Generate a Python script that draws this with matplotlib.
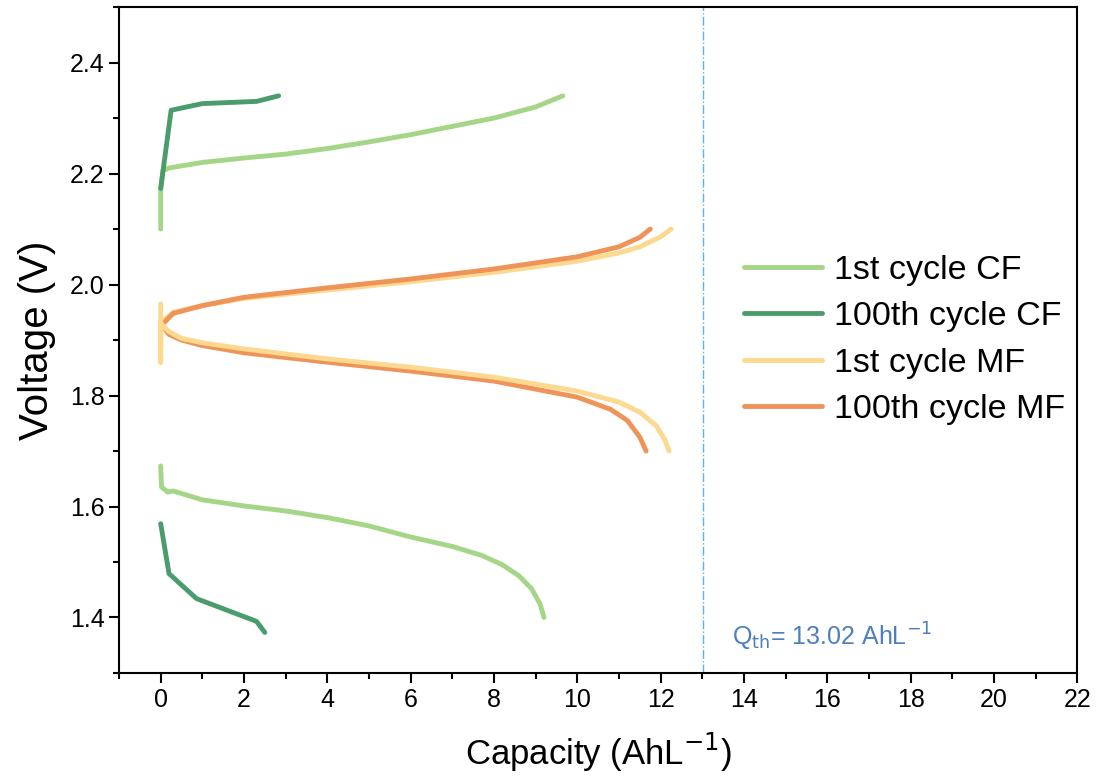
import numpy as np
import matplotlib
matplotlib.use('Agg')
import matplotlib.pyplot as plt
from matplotlib.ticker import MultipleLocator, FormatStrFormatter

plt.rcParams['font.family'] = ['Liberation Sans', 'DejaVu Sans']

# 1st cycle CF
cf1_chg_x = [0, 0, 0.05, 0.2, 1, 2, 3, 4, 5, 6, 7, 8, 9, 9.65]
cf1_chg_y = [2.10, 2.17, 2.205, 2.21, 2.22, 2.228, 2.235, 2.245, 2.257, 2.27, 2.285, 2.30, 2.32, 2.34]
cf1_dis_x = [0, 0.02, 0.17, 0.3, 1.0, 2.0, 3.0, 4.0, 5.0, 6.0, 7.0, 7.7, 8.2, 8.6, 8.9, 9.1, 9.2]
cf1_dis_y = [1.673, 1.635, 1.626, 1.628, 1.612, 1.601, 1.592, 1.580, 1.565, 1.545, 1.528, 1.512, 1.495, 1.475, 1.452, 1.425, 1.40]

# 100th cycle CF
cf100_chg_x = [0, 0.25, 1.0, 2.3, 2.83]
cf100_chg_y = [2.173, 2.314, 2.326, 2.33, 2.34]
cf100_dis_x = [0, 0.2, 0.86, 2.3, 2.5]
cf100_dis_y = [1.569, 1.479, 1.434, 1.393, 1.373]

# 1st cycle MF
mf1_chg_x = [0, 0.3, 1, 2, 4, 6, 8, 10, 11, 11.5, 12, 12.25]
mf1_chg_y = [1.93, 1.95, 1.962, 1.975, 1.99, 2.005, 2.022, 2.042, 2.057, 2.068, 2.086, 2.10]
mf1_dis_x = [0, 0, 0, 0.2, 0.5, 1, 2, 4, 6, 8, 10, 11, 11.5, 11.9, 12.1, 12.2]
mf1_dis_y = [1.965, 1.86, 1.93, 1.915, 1.903, 1.895, 1.884, 1.866, 1.851, 1.833, 1.808, 1.788, 1.77, 1.745, 1.72, 1.70]

# 100th cycle MF
mf100_chg_x = [0, 0.3, 1, 2, 4, 6, 8, 10, 11, 11.5, 11.75]
mf100_chg_y = [1.925, 1.948, 1.962, 1.977, 1.994, 2.01, 2.028, 2.05, 2.068, 2.085, 2.10]
mf100_dis_x = [0, 0.2, 0.5, 1, 2, 4, 6, 8, 10, 10.8, 11.2, 11.5, 11.65]
mf100_dis_y = [1.93, 1.91, 1.9, 1.89, 1.877, 1.86, 1.844, 1.826, 1.797, 1.775, 1.755, 1.725, 1.70]

q_th = 13.02

c_cf1 = '#a5d586'
c_cf100 = '#4b9c6d'
c_mf1 = '#fcd98e'
c_mf100 = '#ef9458'

fig = plt.figure(figsize=(10.96, 7.83), dpi=100)
ax = fig.add_axes([0.1086, 0.1405, 0.8744, 0.8505])

lw = 3.5
kw = dict(lw=lw, solid_capstyle='round', solid_joinstyle='round')
ax.plot(cf1_chg_x, cf1_chg_y, color=c_cf1, label='1st cycle CF', **kw)
ax.plot(cf1_dis_x, cf1_dis_y, color=c_cf1, **kw)
ax.plot(cf100_chg_x, cf100_chg_y, color=c_cf100, label='100th cycle CF', **kw)
ax.plot(cf100_dis_x, cf100_dis_y, color=c_cf100, **kw)
ax.plot(mf1_chg_x, mf1_chg_y, color=c_mf1, label='1st cycle MF', **kw)
ax.plot(mf100_chg_x, mf100_chg_y, color=c_mf100, label='100th cycle MF', **kw)
ax.plot(mf100_dis_x, mf100_dis_y, color=c_mf100, **kw)
ax.plot(mf1_dis_x, mf1_dis_y, color=c_mf1, **kw)

ax.axvline(q_th, color='#62aef2', lw=1, ls='-.')
ax.text(q_th + 0.7, 1.35, r'Q$_{\rm th}$= 13.02 AhL$^{-1}$', color='#4d7fbf', fontsize=18)

ax.set_xlim(-1, 22)
ax.set_ylim(1.3, 2.5)
ax.xaxis.set_major_locator(MultipleLocator(2))
ax.xaxis.set_minor_locator(MultipleLocator(1))
ax.yaxis.set_major_locator(MultipleLocator(0.2))
ax.yaxis.set_minor_locator(MultipleLocator(0.1))
ax.yaxis.set_major_formatter(FormatStrFormatter('%.1f'))
ax.tick_params(which='major', length=7, width=1.5, labelsize=18, direction='out')
ax.tick_params(which='minor', length=4, width=1.5, direction='out')
for s in ax.spines.values():
    s.set_linewidth(1.5)

ax.set_xlabel('Capacity (AhL$^{-1}$)', fontsize=25, labelpad=14)
ax.set_ylabel('Voltage (V)', fontsize=29, labelpad=10)

ax.legend(loc='center left', bbox_to_anchor=(0.62, 0.5), frameon=False, fontsize=24.5,
          handlelength=2.3, handletextpad=0.35, labelspacing=0.45)

fig.savefig('out.png', dpi=100)
